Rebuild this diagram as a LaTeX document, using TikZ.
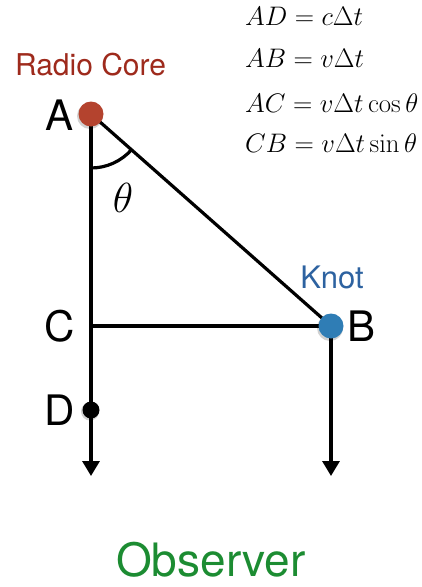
\RequirePackage{fix-cm}
\documentclass[tikz,border=0pt]{standalone}
\usepackage[no-math]{fontspec}
\newfontfamily\hel{TeX Gyre Heros}
\usetikzlibrary{arrows.meta}
\definecolor{corered}{HTML}{9E2A1C}
\definecolor{dotred}{HTML}{B4432E}
\definecolor{knotblue}{HTML}{2D62A0}
\definecolor{dotblue}{HTML}{2F7DB5}
\definecolor{obsgreen}{HTML}{1C8C32}
\begin{document}
\begin{tikzpicture}[x=1pt,y=-1pt,
  seg/.style={draw=black, line width=3.2pt},
  ray/.style={seg, -{Triangle[width=17pt,length=15pt]}},
  lab/.style={font=\hel\fontsize{42}{46}\selectfont, inner sep=0pt},
  eq/.style={anchor=base west, inner sep=0pt, font=\fontsize{26.8}{30}\selectfont},
  pt/.style={circle, inner sep=0pt, minimum size=#1},
  shade/.style={circle, inner sep=0pt, minimum size=#1, fill=black, opacity=0.18}]
\useasboundingbox (0,0) rectangle (421,587);
% positions
\coordinate (a) at (91,114);
\coordinate (b) at (331,326);
\coordinate (c) at (91,326);
\coordinate (d) at (91,410);
\coordinate (endL) at (91,476);
\coordinate (endR) at (331,476);
% lines
\draw[ray] (a) -- (endL);
\draw[ray] (b) -- (endR);
\draw[seg] (a) -- (b);
\draw[seg] (c) -- (b);
\draw[seg] (a) ++(90:54) arc[start angle=90, end angle=41.2, radius=54];
% dots
\node[shade=26pt] at ([shift={(-1,2)}]a) {};
\node[shade=26pt] at ([shift={(-1,2)}]b) {};
\node[shade=18pt] at ([shift={(-1,1.5)}]d) {};
\node[pt=25pt, fill=dotred] (A) at (a) {};
\node[pt=25pt, fill=dotblue] (B) at (b) {};
\node[pt=17pt, fill=black] (D) at (d) {};
% labels
\node[lab] (labA) at (60,115) {A};
\node[lab] (labB) at (362,326) {B};
\node[lab] (labC) at (60,326) {C};
\node[lab] (labD) at (60,410) {D};
\node[font=\hel\fontsize{30}{36}\selectfont, text=corered, inner sep=0pt] (core) at (90.5,65) {Radio Core};
\node[font=\hel\fontsize{31}{36}\selectfont, text=knotblue, inner sep=0pt] (knot) at (332,277) {Knot};
\node[font=\hel\fontsize{46}{52}\selectfont, text=obsgreen, inner sep=0pt] (obs) at (211,560) {Observer};
\node[inner sep=0pt, font=\fontsize{42}{46}\selectfont] (theta) at (123,198) {$\theta$};
% equations
\node[eq] (e1) at (245,25) {$AD = c\Delta t$};
\node[eq] (e2) at (245,67) {$AB = v\Delta t$};
\node[eq] (e3) at (245,112) {$AC = v\Delta t\cos\theta$};
\node[eq] (e4) at (245,152) {$CB = v\Delta t\sin\theta$};
\end{tikzpicture}
\end{document}
